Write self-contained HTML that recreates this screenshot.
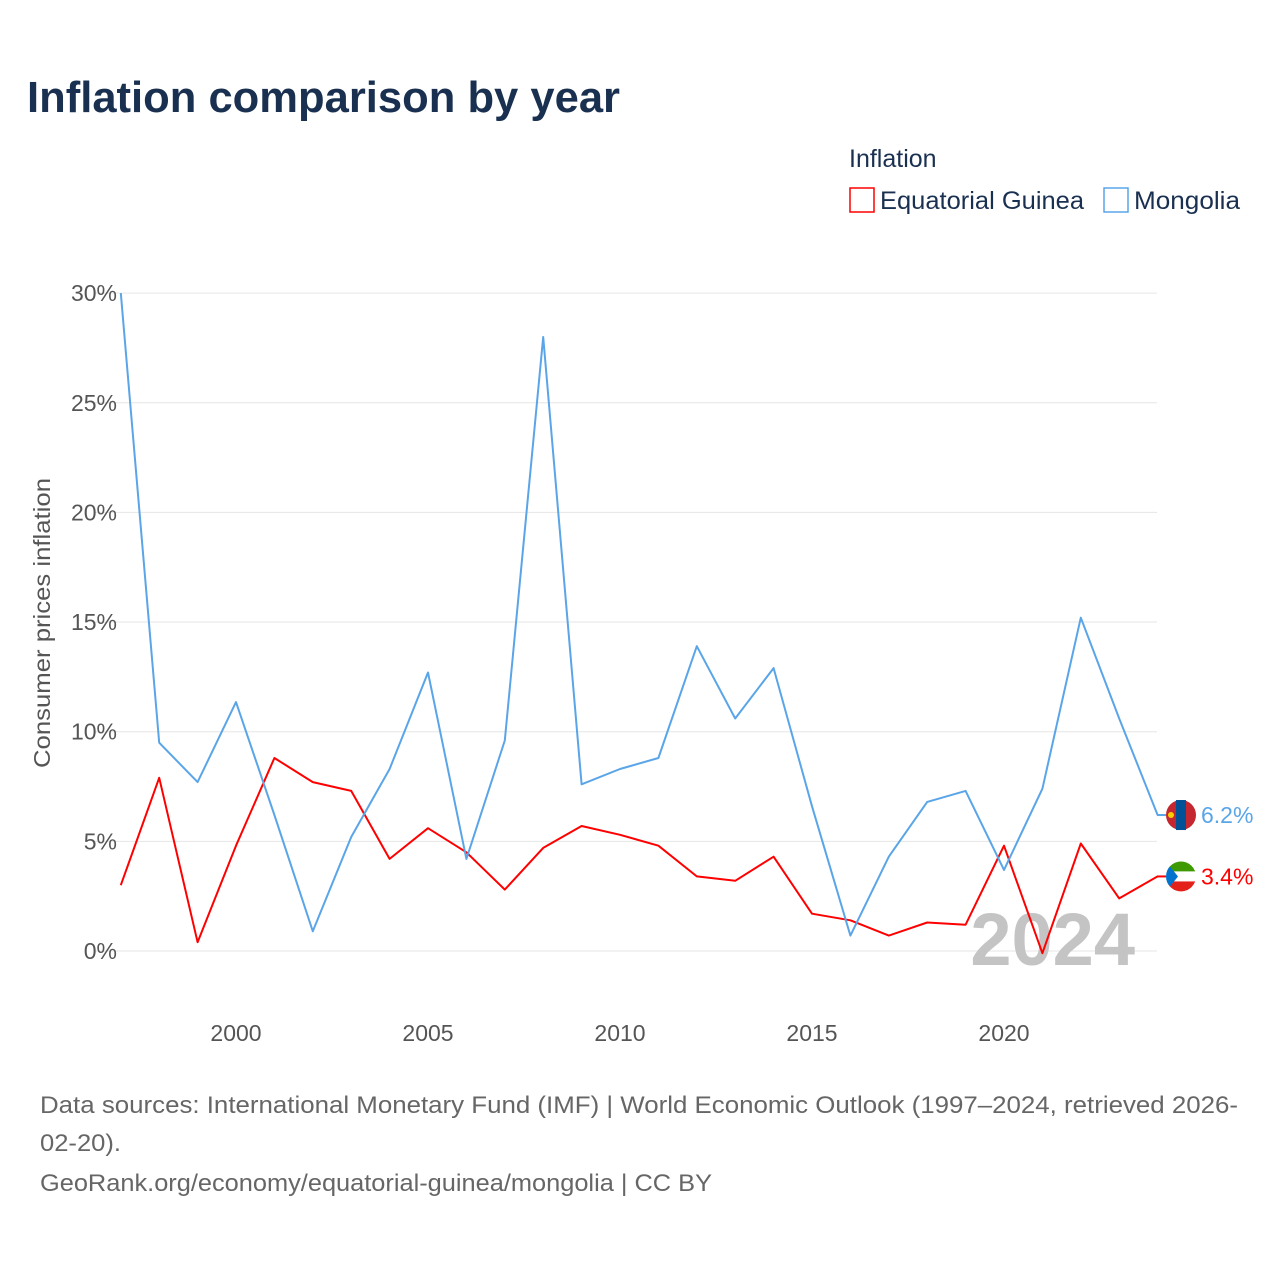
<!DOCTYPE html>
<html><head><meta charset="utf-8"><style>
body{margin:0;background:#fff;font-family:"Liberation Sans",sans-serif;}
</style></head><body>
<svg width="1280" height="1280" viewBox="0 0 1280 1280" xmlns="http://www.w3.org/2000/svg">
<rect width="1280" height="1280" fill="#fff"/>
<text x="27" y="112" font-size="44" font-weight="bold" fill="#1a3050" textLength="593" lengthAdjust="spacingAndGlyphs">Inflation comparison by year</text>
<text x="849" y="167" font-size="25" fill="#1a3050">Inflation</text>
<g><rect x="850" y="188" width="24" height="24" fill="none" stroke="#f00" stroke-width="1.5"/><text x="880" y="209" font-size="25" fill="#1a3050" textLength="204" lengthAdjust="spacingAndGlyphs">Equatorial Guinea</text></g>
<g><rect x="1104" y="188" width="24" height="24" fill="none" stroke="#5aa5e8" stroke-width="1.5"/><text x="1134" y="209" font-size="25" fill="#1a3050" textLength="106" lengthAdjust="spacingAndGlyphs">Mongolia</text></g>
<g id="grid"></g>
<g id="yt"></g>
<g id="xt"></g>
<text transform="translate(50,623) rotate(-90)" text-anchor="middle" font-size="23" fill="#555" textLength="290" lengthAdjust="spacingAndGlyphs">Consumer prices inflation</text>
<text x="1135" y="965" text-anchor="end" font-size="74" font-weight="bold" fill="#c4c4c4">2024</text>
<g id="series"></g>
<text x="40" y="1113" font-size="24" fill="#666" textLength="1198" lengthAdjust="spacingAndGlyphs">Data sources: International Monetary Fund (IMF) | World Economic Outlook (1997–2024, retrieved 2026-</text>
<text x="40" y="1151" font-size="24" fill="#666" textLength="81" lengthAdjust="spacingAndGlyphs">02-20).</text>
<text x="40" y="1191" font-size="24" fill="#666" textLength="672" lengthAdjust="spacingAndGlyphs">GeoRank.org/economy/equatorial-guinea/mongolia | CC BY</text>
</svg>
<script>
const years=[1997,1998,1999,2000,2001,2002,2003,2004,2005,2006,2007,2008,2009,2010,2011,2012,2013,2014,2015,2016,2017,2018,2019,2020,2021,2022,2023,2024];
const mongolia=[30,9.5,7.7,11.35,6.2,0.9,5.2,8.3,12.7,4.2,9.6,28.0,7.6,8.3,8.8,13.9,10.6,12.9,6.6,0.7,4.3,6.8,7.3,3.7,7.4,15.2,10.6,6.2];
const eqGuinea=[3.0,7.9,0.4,4.8,8.8,7.7,7.3,4.2,5.6,4.5,2.8,4.7,5.7,5.3,4.8,3.4,3.2,4.3,1.7,1.4,0.7,1.3,1.2,4.8,-0.1,4.9,2.4,3.4];
const yTicks=[0,5,10,15,20,25,30];
const xTicks=[2000,2005,2010,2015,2020];
const NS="http://www.w3.org/2000/svg";
const X=y=>120.8+(y-1997)*38.4;
const Y=v=>951-v*21.93;
function mk(t,a,p){const e=document.createElementNS(NS,t);for(const k in a)e.setAttribute(k,a[k]);p.appendChild(e);return e;}
const grid=document.getElementById('grid'),yt=document.getElementById('yt'),xt=document.getElementById('xt'),ser=document.getElementById('series');
yTicks.forEach(v=>{
 const l=mk('line',{x1:95,x2:1157,y1:Y(v),y2:Y(v),stroke:'#e6e6e6','stroke-width':1},grid);
 
 
 const t=mk('text',{x:117,y:Y(v)+8,'text-anchor':'end','font-size':23,fill:'#555'},yt);t.textContent=v+'%';
 
 
});
xTicks.forEach(v=>{
 const t=mk('text',{x:X(v),y:1041,'text-anchor':'middle','font-size':23,fill:'#555'},xt);t.textContent=v;
 
 
});
function line(vals,col,name){
 const d=vals.map((v,i)=>(i?'L':'M')+X(years[i]).toFixed(1)+','+Y(v).toFixed(1)).join('');
 const p=mk('path',{d:d,fill:'none',stroke:col,'stroke-width':2,'stroke-linejoin':'round'},ser);
 
 
 const last=vals[vals.length-1],ly=Y(last);
 mk('line',{x1:1157,x2:1166,y1:ly,y2:ly,stroke:col,'stroke-width':2},ser);
 const t=mk('text',{x:1201,y:ly+8,'font-size':23,fill:col},ser);t.textContent=last.toFixed(1)+'%';
 
 
 return ly;
}
const lr=line(eqGuinea,'#f00','line-equatorial-guinea');
const lb=line(mongolia,'#5aa5e8','line-mongolia');
const fm=mk('g',{},ser);


mk('circle',{cx:1181,cy:lb,r:15,fill:'#c4272f'},fm);
mk('rect',{x:1176,y:lb-15,width:10,height:30,fill:'#015197'},fm);
mk('circle',{cx:1171,cy:lb,r:3,fill:'#f9cf02'},fm);
const fe=mk('g',{},ser);


mk('clipPath',{id:'cc'},fe);
mk('circle',{cx:1181,cy:lr,r:15},document.getElementById('cc'));
const g2=mk('g',{'clip-path':'url(#cc)'},fe);
mk('rect',{x:1166,y:lr-15,width:30,height:10,fill:'#3e9a00'},g2);
mk('rect',{x:1166,y:lr-5,width:30,height:10,fill:'#fff'},g2);
mk('rect',{x:1166,y:lr+5,width:30,height:10,fill:'#e32118'},g2);
mk('path',{d:`M1166,${lr-15}L1178,${lr}L1166,${lr+15}Z`,fill:'#0073ce'},g2);
</script>
</body></html>
